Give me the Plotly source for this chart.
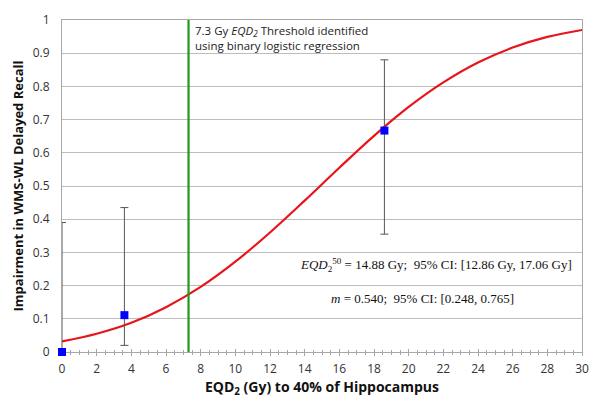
import plotly.graph_objects as go

# Observed data points
obs_x = [0.0, 3.6, 18.6]
obs_y = [0.0, 0.111, 0.667]
err_hi = [0.39, 0.435, 0.88]
err_lo = [0.0, 0.02, 0.355]

# Fitted dose-response curve
curve_x = [0, 2, 4, 6, 8, 10, 12, 14, 16, 18, 20, 22, 24, 26, 28, 30]
curve_y = [0.032, 0.055, 0.088, 0.135, 0.196, 0.272, 0.360, 0.456,
           0.555, 0.651, 0.738, 0.812, 0.872, 0.917, 0.949, 0.970]

threshold_x = 7.3

x_ticks = list(range(0, 31, 2))
y_ticks = [0, 0.1, 0.2, 0.3, 0.4, 0.5, 0.6, 0.7, 0.8, 0.9, 1]
y_tick_labels = ["0", "0.1", "0.2", "0.3", "0.4", "0.5", "0.6", "0.7", "0.8", "0.9", "1"]

SANS = "Open Sans, Lato, sans-serif"
SERIF = "Liberation Serif, Times New Roman, serif"

fig = go.Figure()

fig.add_trace(go.Scatter(
    x=curve_x, y=curve_y, mode="lines", line_shape="spline",
    line=dict(color="#e8141b", width=2.2), hoverinfo="skip", showlegend=False))

fig.add_trace(go.Scatter(
    x=[threshold_x, threshold_x], y=[0, 1], mode="lines",
    line=dict(color="#1e9a1e", width=2.2), showlegend=False))

fig.add_trace(go.Scatter(
    x=obs_x, y=obs_y, mode="markers",
    marker=dict(symbol="square", size=8, color="#0000ff"),
    error_y=dict(type="data", symmetric=False,
                 array=[h - y for h, y in zip(err_hi, obs_y)],
                 arrayminus=[y - l for l, y in zip(err_lo, obs_y)],
                 color="#555555", thickness=1, width=4),
    cliponaxis=False, showlegend=False))

# invisible trace on secondary x axis for inside ticks
fig.add_trace(go.Scatter(x=[0, 30], y=[0, 0], xaxis="x2", mode="markers",
                         marker=dict(opacity=0), hoverinfo="skip", showlegend=False))

fig.update_layout(
    width=600, height=405,
    margin=dict(l=62, r=14, t=11, b=53),
    paper_bgcolor="white", plot_bgcolor="white",
    font=dict(family=SANS, color="#333333", size=12),
    xaxis=dict(range=[0, 30], tickvals=x_ticks, showgrid=False, zeroline=False,
               showline=True, linecolor="#a8a8a8", linewidth=1, mirror=True,
               layer="below traces",
               ticks="outside", ticklen=3, tickcolor="#a8a8a8",
               ticklabelstandoff=3,
               minor=dict(dtick=0.5, ticks="outside", ticklen=2, tickcolor="#a8a8a8"),
               tickfont=dict(family=SANS, size=12, color="#333333"),
               title=dict(text="<b>EQD<sub>2</sub> (Gy) to 40% of Hippocampus</b>",
                          font=dict(family=SANS, size=14, color="#111111"),
                          standoff=3)),
    xaxis2=dict(range=[0, 30], overlaying="x", anchor="y", side="bottom",
                tickvals=x_ticks, showticklabels=False, showgrid=False, zeroline=False,
                ticks="inside", ticklen=3, tickcolor="#a8a8a8",
                minor=dict(dtick=0.5, ticks="inside", ticklen=2, tickcolor="#a8a8a8")),
    yaxis=dict(range=[0, 1], tickvals=y_ticks, ticktext=y_tick_labels,
               showgrid=True, gridcolor="#bdbdbd", gridwidth=1, zeroline=False,
               showline=True, linecolor="#a8a8a8", linewidth=1, mirror=True,
               layer="below traces",
               ticks="", ticklen=0, ticklabelstandoff=9,
               tickfont=dict(family=SANS, size=12, color="#333333"),
               title=dict(text="<b>Impairment in WMS-WL Delayed Recall</b>",
                          font=dict(family=SANS, size=13, color="#111111"),
                          standoff=6)),
)

fig.add_annotation(
    x=threshold_x, y=1, xref="x", yref="y", xanchor="left", yanchor="top",
    xshift=4, yshift=-1, showarrow=False, align="left",
    text="7.3 Gy <i>EQD</i><sub><i>2</i></sub> Threshold identified<br>using binary logistic regression",
    font=dict(family=SANS, size=11.5, color="#222222"))

fig.add_annotation(
    x=29.55, y=0.262, xref="x", yref="y", xanchor="right", yanchor="middle",
    showarrow=False,
    text="<i>EQD</i><sub>2</sub><sup>50</sup> = 14.88 Gy;  95% CI: [12.86 Gy, 17.06 Gy]",
    font=dict(family=SERIF, size=13, color="#111111"))
fig.add_annotation(
    x=20.8, y=0.16, xref="x", yref="y", xanchor="center", yanchor="middle",
    showarrow=False,
    text="<i>m</i> = 0.540;  95% CI: [0.248, 0.765]",
    font=dict(family=SERIF, size=13, color="#111111"))

fig.write_html("out.html", config={"displayModeBar": False},
               post_script="document.body.style.margin='0';")
